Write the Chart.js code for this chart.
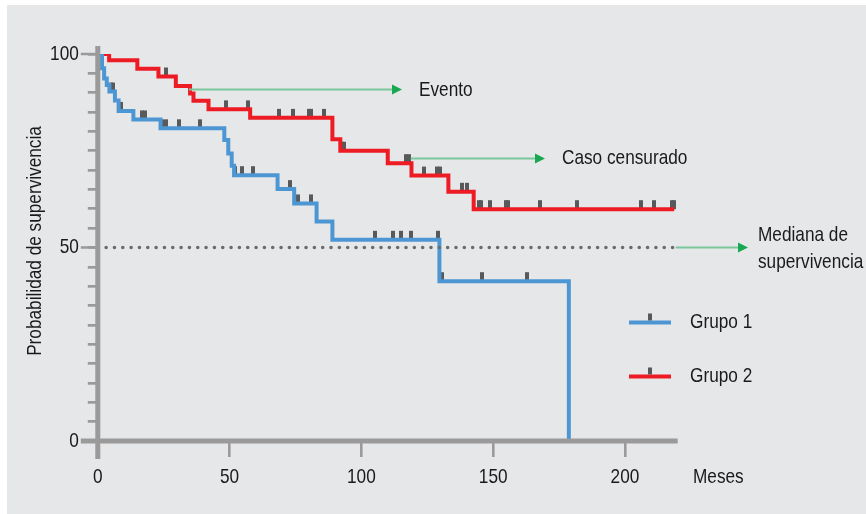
<!DOCTYPE html>
<html>
<head>
<meta charset="utf-8">
<script src="https://cdn.jsdelivr.net/npm/chart.js@4.4.1/dist/chart.umd.min.js"></script>
<style>
  html, body { margin: 0; padding: 0; background: #ffffff; }
  #wrap { position: relative; width: 866px; height: 514px; }
  #panel { position: absolute; left: 7px; top: 5px; right: 0; bottom: 0; background: #e6e7e9; }
  canvas { position: absolute; left: 0; top: 0; }
</style>
</head>
<body>
<div id="wrap">
  <div id="panel"></div>
  <canvas id="km" width="866" height="514"></canvas>
</div>
<script>
const FONT = '"Liberation Sans", Arial, sans-serif';
const NARROW = 0.82;   // horizontal compression giving a narrow sans face

// Kaplan–Meier curves: time of each step (months) and survival (%) after it
const group1Times = [0, 1.6, 2.4, 3.4, 4.4, 6.5, 7.9, 13.5, 23.8, 48, 49.5, 50.8, 51.7, 68.2, 74.5, 83, 89, 129.6, 178.7];
const group1Surv  = [100, 96.3, 93.7, 92.0, 90.3, 88.0, 85.3, 83.1, 80.8, 77.8, 74.3, 71.1, 68.7, 65.1, 61.4, 56.7, 52.0, 41.3, 0];
const group2Times = [0, 4.3, 15, 23, 29.6, 35, 36.3, 42, 57.8, 89, 92, 110, 119, 133, 142.6, 218.7];
const group2Surv  = [100, 98.4, 96.2, 94.2, 91.7, 89.8, 87.9, 85.7, 83.5, 78.0, 75.0, 71.8, 68.6, 64.4, 59.9, 59.9];

// Censored follow-up times (months)
const group1Censored = [1.7, 4.9, 5.7, 8.7, 16.8, 17.8, 24.3, 25.8, 30.8, 38.8, 51.9, 54.7, 58.9, 72.9, 76, 80.9,
                        105.2, 112.1, 115.1, 118.9, 128.9, 130.5, 145.6, 162.7];
const group2Censored = [25.8, 48.5, 56.9, 68.7, 73.9, 80, 81, 85.8, 92.5, 93.5, 117, 118, 123.7, 128.7, 129.7,
                        138.3, 139.9, 144.5, 145.5, 148.8, 155, 155.7, 167.8, 181.7, 206, 211, 218, 218.7];

const medianSurvival = 50;
const medianEnd = 218.5;
const seriesNames = ['Grupo 1', 'Grupo 2'];
const xTickValues = [0, 50, 100, 150, 200];
const yLabelValues = [0, 50, 100];

const RED = '#ed1c24';
const BLUE = '#4d96d4';
const CENSOR = '#58595b';
const AXIS = '#9a9a9a';
const GREEN_LINE = '#7ac79c';
const GREEN_HEAD = '#18a851';
const TEXT = '#1a1a1a';

function toPoints(times, surv) {
  return times.map((t, i) => ({ x: t, y: surv[i] }));
}
function survivalAt(times, surv, t) {
  let s = surv[0];
  for (let i = 0; i < times.length; i++) { if (times[i] <= t) s = surv[i]; }
  return s;
}
function censorPoints(list, times, surv) {
  return list.map(t => ({ x: t, y: survivalAt(times, surv, t) }));
}

// Censor mark: a short vertical bar standing on the curve
const censorMark = (() => {
  const c = document.createElement('canvas');
  c.width = 4; c.height = 20;
  const g = c.getContext('2d');
  g.fillStyle = CENSOR;
  g.fillRect(0, 1, 4, 9);
  return c;
})();

// Text in a condensed style
function narrowText(ctx, text, x, y, align) {
  ctx.save();
  ctx.translate(x, y);
  ctx.scale(NARROW, 1);
  ctx.textAlign = align || 'left';
  ctx.fillText(text, 0, 0);
  ctx.restore();
}

const decorations = {
  id: 'decorations',
  afterDatasetsDraw(chart) {
    const { ctx } = chart;
    const xs = chart.scales.x, ys = chart.scales.y;
    const x0 = xs.getPixelForValue(0), y0 = ys.getPixelForValue(0);
    ctx.save();
    // axis lines, extending past the origin
    ctx.strokeStyle = AXIS;
    ctx.lineWidth = 5;
    ctx.beginPath();
    ctx.moveTo(x0 - 17, y0); ctx.lineTo(xs.getPixelForValue(220), y0);
    ctx.moveTo(x0, ys.getPixelForValue(100) - 8); ctx.lineTo(x0, y0 + 18);
    ctx.stroke();
    // longer marks at the labelled survival levels
    ctx.lineWidth = 2.7;
    ctx.beginPath();
    for (const v of [50, 100]) {
      const y = ys.getPixelForValue(v);
      ctx.moveTo(x0 - 17, y); ctx.lineTo(x0, y);
    }
    ctx.stroke();
    ctx.restore();
  },
  afterDraw(chart) {
    const { ctx } = chart;
    const xs = chart.scales.x, ys = chart.scales.y;
    const px = v => xs.getPixelForValue(v), py = v => ys.getPixelForValue(v);
    ctx.save();
    ctx.font = '21px ' + FONT;
    ctx.fillStyle = TEXT;
    ctx.textBaseline = 'middle';

    // tick labels taken from the scales
    ys.ticks.forEach((t, i) => {
      if (t.label) narrowText(ctx, String(t.label), px(0) - 19, ys.getPixelForTick(i), 'right');
    });
    xs.ticks.forEach((t, i) => {
      narrowText(ctx, String(t.label), xs.getPixelForTick(i), 477, 'center');
    });

    // axis titles
    narrowText(ctx, 'Meses', 693, 477, 'left');
    ctx.save();
    ctx.translate(35, 241);
    ctx.rotate(-Math.PI / 2);
    narrowText(ctx, 'Probabilidad de supervivencia', 0, 0, 'center');
    ctx.restore();

    // explanatory arrows
    const arrow = (xa, xb, y) => {
      ctx.strokeStyle = GREEN_LINE;
      ctx.lineWidth = 2;
      ctx.beginPath(); ctx.moveTo(xa, y); ctx.lineTo(xb - 9, y); ctx.stroke();
      ctx.fillStyle = GREEN_HEAD;
      ctx.beginPath(); ctx.moveTo(xb, y); ctx.lineTo(xb - 10, y - 5); ctx.lineTo(xb - 10, y + 5); ctx.closePath(); ctx.fill();
    };
    arrow(px(34.6), 402, 89.5);
    arrow(px(118.7), 545, 158.5);
    arrow(px(medianEnd) + 2, 748, py(medianSurvival));

    ctx.fillStyle = TEXT;
    narrowText(ctx, 'Evento', 419, 90);
    narrowText(ctx, 'Caso censurado', 562, 158);
    narrowText(ctx, 'Mediana de', 758, 235);
    narrowText(ctx, 'supervivencia', 758, 262);

    // legend
    const items = [[seriesNames[0], BLUE, 322.5], [seriesNames[1], RED, 376.5]];
    for (const [name, color, y] of items) {
      ctx.strokeStyle = color;
      ctx.lineWidth = 4;
      ctx.beginPath(); ctx.moveTo(629, y); ctx.lineTo(671, y); ctx.stroke();
      ctx.fillStyle = CENSOR;
      ctx.fillRect(648, y - 9, 4, 7);
      ctx.fillStyle = TEXT;
      narrowText(ctx, name, 690, y);
    }
    ctx.restore();
  }
};

new Chart(document.getElementById('km'), {
  type: 'scatter',
  data: {
    datasets: [
      {
        label: 'Mediana',
        data: [{ x: 0, y: medianSurvival }, { x: medianEnd, y: medianSurvival }],
        showLine: true, borderColor: '#6a6b6d', borderWidth: 3.6,
        borderDash: [0, 8.33], borderCapStyle: 'round', pointRadius: 0
      },
      {
        label: seriesNames[0],
        data: toPoints(group1Times, group1Surv),
        showLine: true, stepped: 'before', borderColor: BLUE, borderWidth: 4,
        pointRadius: 0, borderJoinStyle: 'miter'
      },
      {
        label: seriesNames[1],
        data: toPoints(group2Times, group2Surv),
        showLine: true, stepped: 'before', borderColor: RED, borderWidth: 4,
        pointRadius: 0, borderJoinStyle: 'miter'
      },
      {
        label: seriesNames[0] + ' censurado',
        data: censorPoints(group1Censored, group1Times, group1Surv),
        pointStyle: censorMark, showLine: false
      },
      {
        label: seriesNames[1] + ' censurado',
        data: censorPoints(group2Censored, group2Times, group2Surv),
        pointStyle: censorMark, showLine: false
      }
    ]
  },
  options: {
    responsive: false,
    animation: false,
    events: [],
    layout: { padding: { left: 0, top: 54, right: 188.3, bottom: 0 } },
    plugins: { legend: { display: false }, tooltip: { enabled: false } },
    scales: {
      x: {
        type: 'linear', min: 0, max: 220,
        afterFit(s) { s.height = 73; },
        afterBuildTicks(s) { s.ticks = xTickValues.map(v => ({ value: v })); },
        border: { display: false },
        grid: { drawOnChartArea: false, drawTicks: true, tickLength: 16, color: AXIS, lineWidth: 2.6 },
        ticks: { display: false, includeBounds: false, autoSkip: false, maxRotation: 0,
                 font: { family: FONT, size: 21 } }
      },
      y: {
        type: 'linear', min: 0, max: 100,
        afterFit(s) { s.width = 97.8; },
        border: { display: false },
        grid: { drawOnChartArea: false, drawTicks: true, tickLength: 10, color: AXIS, lineWidth: 2.7 },
        ticks: { display: false, stepSize: 5, autoSkip: false,
                 font: { family: FONT, size: 21 },
                 callback: v => (yLabelValues.includes(v) ? String(v) : '') }
      }
    }
  },
  plugins: [decorations]
});
</script>
</body>
</html>
